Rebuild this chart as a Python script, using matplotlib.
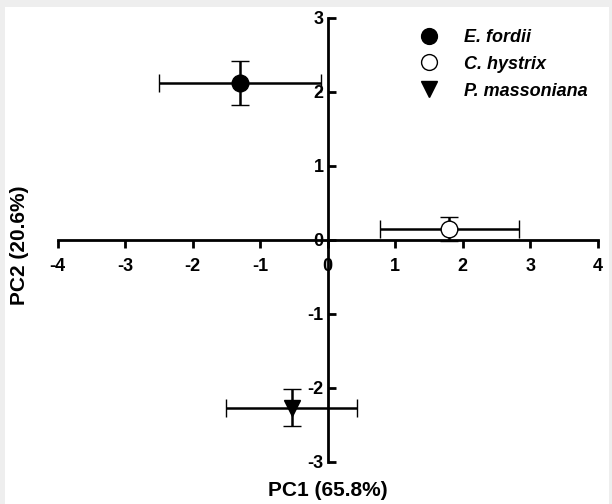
import matplotlib
matplotlib.use("Agg")
import matplotlib.pyplot as plt
from matplotlib.patches import Rectangle

species = ["E. fordii", "C. hystrix", "P. massoniana"]
pc1 = [-1.30, 1.80, -0.53]
pc2 = [2.12, 0.15, -2.27]
pc1_err = [1.20, 1.03, 0.97]
pc2_err = [0.30, 0.16, 0.25]
markers = ["o", "o", "v"]
faces = ["black", "white", "black"]

xticks = [-4, -3, -2, -1, 0, 1, 2, 3, 4]
yticks = [-3, -2, -1, 0, 1, 2, 3]

plt.rcParams['font.family'] = ['Liberation Sans', 'DejaVu Sans']
fig = plt.figure(figsize=(6.12, 5.04), dpi=100, facecolor="#eeeeee")
bg = fig.add_axes([5/612, 0, 604/612, 1 - 7/504], zorder=0)
bg.set_axis_off()
bg.add_patch(Rectangle((0, 0), 1, 1, transform=bg.transAxes, facecolor="white", edgecolor="none"))

ax = fig.add_axes([57.5/612, 1 - 462/504, (598 - 57.5)/612, (462 - 18)/504], zorder=2)
ax.set_facecolor("none")

for i, name in enumerate(species):
    ax.errorbar(pc1[i], pc2[i], xerr=pc1_err[i], yerr=pc2_err[i], fmt=markers[i],
                color="black", mfc=faces[i], mec="black", ms=12,
                mew=1.0, elinewidth=1.8, capsize=6.5, capthick=1.8, label=name, zorder=3)

ax.set_xlim(-4, 4)
ax.set_ylim(-3, 3)
for s in ["top", "right"]:
    ax.spines[s].set_visible(False)
ax.spines["left"].set_position(("data", 0))
ax.spines["bottom"].set_position(("data", 0))
ax.spines["left"].set_linewidth(2.0)
ax.spines["bottom"].set_linewidth(2.0)
ax.set_xticks(xticks)
ax.set_yticks(yticks)
ax.set_xticklabels([str(t) for t in xticks])
ax.set_yticklabels([str(t) for t in yticks])
ax.tick_params(axis="x", direction="out", length=6, width=2.0, pad=7, labelsize=13)
ax.tick_params(axis="y", direction="in", length=6, width=2.0, pad=3, labelsize=13)
for lab in ax.get_xticklabels() + ax.get_yticklabels():
    lab.set_fontweight("bold")

fig.text(328/612, 1 - 490/504, "PC1 (65.8%)", ha="center", va="center",
         fontsize=15, fontweight="bold", zorder=3)
fig.text(20/612, 1 - 245/504, "PC2 (20.6%)", ha="center", va="center",
         rotation=90, fontsize=15, fontweight="bold", zorder=3)

handles, labels = ax.get_legend_handles_labels()
handles = [h[0] for h in handles]
leg = ax.legend(handles, labels, loc="upper right", bbox_to_anchor=(1.0, 1.0),
                frameon=False, prop={"style": "italic", "weight": "bold", "size": 13},
                handletextpad=0.9, labelspacing=0.55, borderaxespad=0.2,
                markerscale=0.95)

fig.savefig("out.png", dpi=100, facecolor=fig.get_facecolor())
